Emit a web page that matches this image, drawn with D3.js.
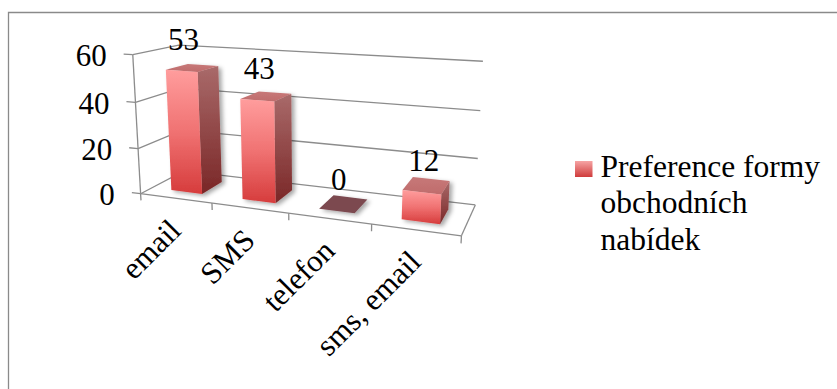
<!DOCTYPE html>
<html><head><meta charset="utf-8">
<script src="https://cdn.jsdelivr.net/npm/d3@7"></script>
<style>
body{margin:0;background:#fff}
svg{display:block}
</style>
</head><body>
<svg id="c" width="837" height="389"></svg>
<script>
// ---- data ----
const categories = ["email", "SMS", "telefon", "sms, email"];
const values = [53, 43, 0, 12];
const legendLines = ["Preference formy", "obchodních", "nabídek"];
const yTicks = [0, 20, 40, 60];

// ---- 3D box calibration: [X across, H height, Z depth] -> screen [u, v] ----
const calib = [
  [0,0,0,142,193],[0.25,0,0,211.7,205],[0.5,0,0,288.3,213.3],[0.75,0,0,371.7,223.3],[1,0,0,462,235],
  [1,0,1,475,205],[0,1,0,133.3,55.7],[0,2/3,0,135,101.7],[0,1/3,0,136.7,148.3],
  [0,1,1,179,44.5],[1,1,1,483,61],[1,2/3,1,480,111],[1,1/3,1,478,159]
];

function solveDLT(pts){
  const A=[],b=[];
  pts.forEach(([X,H,Z,u,v])=>{
    A.push([X,H,Z,1,0,0,0,0,-u*X,-u*H,-u*Z]); b.push(u);
    A.push([0,0,0,0,X,H,Z,1,-v*X,-v*H,-v*Z]); b.push(v);
  });
  const n=11, M=[];
  for(let i=0;i<n;i++){M.push([]);for(let j=0;j<=n;j++){let s=0;for(let k=0;k<A.length;k++)s+=A[k][i]*(j<n?A[k][j]:b[k]);M[i].push(s);}}
  for(let c=0;c<n;c++){
    let p=c;for(let r=c+1;r<n;r++)if(Math.abs(M[r][c])>Math.abs(M[p][c]))p=r;
    [M[c],M[p]]=[M[p],M[c]];
    for(let r=0;r<n;r++){if(r===c)continue;const k=M[r][c]/M[c][c];for(let j=c;j<=n;j++)M[r][j]-=k*M[c][j];}
  }
  return M.map((row,i)=>row[n]/row[i]);
}
const P = solveDLT(calib);
function proj(X,H,Z){
  const w=P[8]*X+P[9]*H+P[10]*Z+1;
  return [(P[0]*X+P[1]*H+P[2]*Z+P[3])/w,(P[4]*X+P[5]*H+P[6]*Z+P[7])/w];
}

// ---- scales ----
const xBand = d3.scaleBand().domain(categories).range([0,1]).paddingInner(0.56).paddingOuter(0.28);
const xCell = d3.scaleBand().domain(categories).range([0,1]);
const hScale = d3.scaleLinear().domain([0,60]).range([0,1]);
const zFront = 0.25, zBack = 0.75;

const svg = d3.select("#c");
const defs = svg.append("defs");
function vgrad(id, stops){
  const g=defs.append("linearGradient").attr("id",id).attr("x1",0).attr("y1",0).attr("x2",0).attr("y2",1);
  stops.forEach(([o,c])=>g.append("stop").attr("offset",o).attr("stop-color",c));
}
vgrad("gFront",[[0,"#ff9d9d"],[0.5,"#f07272"],[1,"#d63c3c"]]);
vgrad("gSide",[[0,"#a96a6a"],[1,"#7a2727"]]);
vgrad("gTop",[[0,"#c77878"],[1,"#bf6c6c"]]);
vgrad("gLeg",[[0,"#f6a4a4"],[1,"#cf3b3b"]]);
const flt=defs.append("filter").attr("id","sh").attr("x","-30%").attr("y","-30%").attr("width","160%").attr("height","160%");
flt.append("feDropShadow").attr("dx",3).attr("dy",2).attr("stdDeviation",2.2).attr("flood-color","#000").attr("flood-opacity",0.35);

svg.append("path").attr("d","M8.5,389V12.5H837").attr("fill","none").attr("stroke","#8a8a8a").attr("stroke-width",1.3);

const line = d3.line();
const grid = svg.append("g").attr("fill","none").attr("stroke","#8c8c8c").attr("stroke-width",1.3);
function seg(a,b){grid.append("path").attr("d",line([proj(...a),proj(...b)]));}

yTicks.forEach(t=>{
  const h=hScale(t);
  grid.append("path").attr("d",line([proj(0,h,0),proj(0,h,1),proj(1,h,1)]));
  seg([0,h,0],[-0.032,h,0]);
});
seg([0,0,0],[0,1,0]);
seg([0,0,0],[1,0,0]);
seg([1,0,0],[1,0,1]);
d3.range(0,categories.length+1).forEach(i=>{
  const X=i/categories.length;
  seg([X,0,0],[X,-0.05,0]);
});

function addText(parent, size){
  return parent.append("text").attr("font-family","Liberation Serif").attr("font-size",size).attr("fill","#000");
}

yTicks.forEach(t=>{
  const p=proj(-0.032,hScale(t),0);
  addText(svg,31).attr("x",p[0]-17).attr("y",p[1]+12).attr("text-anchor","end").text(t);
});

const poly = pts => "M"+pts.map(p=>p.join(",")).join("L")+"Z";
categories.forEach((c,i)=>{
  const v=values[i], x0=xBand(c), x1=x0+xBand.bandwidth(), h=hScale(v);
  const g=svg.append("g").attr("filter","url(#sh)");
  if(v>0){
    g.append("path").attr("d",poly([proj(x1,0,zFront),proj(x1,0,zBack),proj(x1,h,zBack),proj(x1,h,zFront)])).attr("fill","url(#gSide)");
    g.append("path").attr("d",poly([proj(x0,h,zFront),proj(x1,h,zFront),proj(x1,h,zBack),proj(x0,h,zBack)])).attr("fill","url(#gTop)");
    g.append("path").attr("d",poly([proj(x0,0,zFront),proj(x1,0,zFront),proj(x1,h,zFront),proj(x0,h,zFront)])).attr("fill","url(#gFront)");
  } else {
    g.append("path").attr("d",poly([proj(x0,h,zFront),proj(x1,h,zFront),proj(x1,h,zBack),proj(x0,h,zBack)])).attr("fill","#7b4950");
  }
  const pt=proj((x0+x1)/2,h,zFront);
  addText(svg,31).attr("x",pt[0]+2).attr("y",pt[1]-21).attr("text-anchor","middle").text(v);
});

categories.forEach(c=>{
  const p=proj(xCell(c)+xCell.bandwidth()/2,0,0);
  addText(svg,31).attr("text-anchor","end")
    .attr("transform",`translate(${p[0]+7},${p[1]+34}) rotate(-45)`).text(c);
});

const leg=svg.append("g");
leg.append("rect").attr("x",575).attr("y",161).attr("width",17.5).attr("height",16).attr("fill","url(#gLeg)");
legendLines.forEach((l,i)=>{
  addText(leg,31.5).attr("x",600.5).attr("y",176.7+i*36.7).text(l);
});
</script>
</body></html>
